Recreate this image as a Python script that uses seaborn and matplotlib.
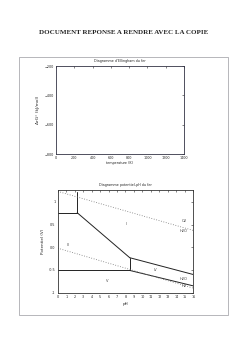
import matplotlib
matplotlib.use("Agg")
import matplotlib.pyplot as plt
import seaborn as sns
import pandas as pd
from matplotlib.patches import Rectangle

sns.set_style("white")
plt.rcParams['font.family'] = ['DejaVu Sans']

# ---- data ----
header = "DOCUMENT REPONSE A RENDRE AVEC LA COPIE"
ell_title = "Diagramme d'Ellingham du fer"
ell_xticks = [0, 200, 400, 600, 800, 1000, 1200, 1400]
ell_yticks = [-800, -600, -400, -200]
ell_xlabel = "temperature (K)"
ell_ylabel = "ΔrG° (kJ/mol)"

pb_title = "Diagramme potentiel-pH du fer"
pb_xticks = list(range(0, 17))
pb_yticks = [-1, -0.5, 0, 0.5, 1]
pb_yticklabels = ["-1", "-0.5", "0.0", "0.5", "1"]
pb_xlabel = "pH"
pb_ylabel = "Potentiel (V)"

# solid boundary segments (pH, E)
seg_fe3_fe2_x = [0, 2.3]; seg_fe3_fe2_y = [0.76, 0.76]
seg_vert1_x = [2.3, 2.3]; seg_vert1_y = [0.76, 1.21]
seg_feoh3_fe2_x = [2.3, 8.5]; seg_feoh3_fe2_y = [0.76, -0.23]
seg_vert2_x = [8.5, 8.5]; seg_vert2_y = [-0.23, -0.51]
seg_feoh3_feoh2_x = [8.5, 16]; seg_feoh3_feoh2_y = [-0.23, -0.60]
seg_fe2_fe_x = [0, 8.5]; seg_fe2_fe_y = [-0.51, -0.51]
seg_feoh2_fe_x = [8.5, 16]; seg_feoh2_fe_y = [-0.51, -0.85]
# dotted water lines
o2_x = [0, 16]; o2_y = [1.23, 0.37]
h2_x = [0, 16]; h2_y = [-0.02, -0.90]

zone_labels = ["I", "III", "IV", "V", "O2", "H2O", "H2O", "H2"]
zone_x = [8.1, 1.3, 11.5, 5.9, 14.9, 14.9, 14.9, 14.9]
zone_y = [0.51, 0.06, -0.51, -0.74, 0.58, 0.35, -0.70, -0.86]

fig = plt.figure(figsize=(2.48, 3.51), dpi=100)

fig.text(0.5, 1 - 33/351, header, ha="center", va="center",
         fontsize=5.0, fontweight="bold", family="Liberation Serif")

# frame box
fig.patches.append(Rectangle((19/248, 1 - 315/351), 209/248, 258/351,
                             transform=fig.transFigure, fill=False,
                             edgecolor="#9a9aa0", linewidth=0.5))

fs = 2.4
# ---- Ellingham (empty) ----
ax1 = fig.add_axes([56/248, 1 - 154/351, 128/248, 88/351])
ax1.set_xlim(0, 1400)
ax1.set_ylim(-800, -200)
ax1.set_xticks(ell_xticks)
ax1.set_yticks(ell_yticks)
ax1.tick_params(labelsize=fs, direction="in", length=1.5, width=0.4, pad=1.5,
                top=True, right=True)
ax1.set_title(ell_title, fontsize=fs, pad=3)
ax1.set_xlabel(ell_xlabel, fontsize=fs, labelpad=1)
ax1.set_ylabel(ell_ylabel, fontsize=3.2, labelpad=3)
for s in ax1.spines.values():
    s.set_linewidth(0.6)
    s.set_color("#333344")

# ---- Pourbaix ----
ax2 = fig.add_axes([57.7/248, 1 - 292.7/351, 135.6/248, 102.7/351])
solid = [(seg_fe3_fe2_x, seg_fe3_fe2_y), (seg_vert1_x, seg_vert1_y),
         (seg_feoh3_fe2_x, seg_feoh3_fe2_y), (seg_vert2_x, seg_vert2_y),
         (seg_feoh3_feoh2_x, seg_feoh3_feoh2_y), (seg_fe2_fe_x, seg_fe2_fe_y),
         (seg_feoh2_fe_x, seg_feoh2_fe_y)]
for xs, ys in solid:
    sns.lineplot(x=xs, y=ys, ax=ax2, color="#222222", linewidth=0.7,
                 sort=False, estimator=None)
for xs, ys in [(o2_x, o2_y), (h2_x, h2_y)]:
    sns.lineplot(x=xs, y=ys, ax=ax2, color="#777777", linewidth=0.6,
                 linestyle=(0, (1, 2)), sort=False, estimator=None)
for t, x, y in zip(zone_labels, zone_x, zone_y):
    ax2.text(x, y, t, fontsize=2.6, ha="center", va="center", color="#444444")

ax2.set_xlim(0, 16)
ax2.set_ylim(-1, 1.26)
ax2.set_xticks(pb_xticks)
ax2.set_yticks(pb_yticks)
ax2.set_yticklabels(pb_yticklabels)
ax2.tick_params(labelsize=fs, direction="in", length=1.5, width=0.4, pad=1.5,
                top=True, right=True)
ax2.set_title(pb_title, fontsize=fs, pad=3)
ax2.set_xlabel(pb_xlabel, fontsize=3, labelpad=2)
ax2.set_ylabel(pb_ylabel, fontsize=3, labelpad=3)
for s in ax2.spines.values():
    s.set_linewidth(0.6)
    s.set_color("#333333")

fig.savefig("out.png", dpi=100)
